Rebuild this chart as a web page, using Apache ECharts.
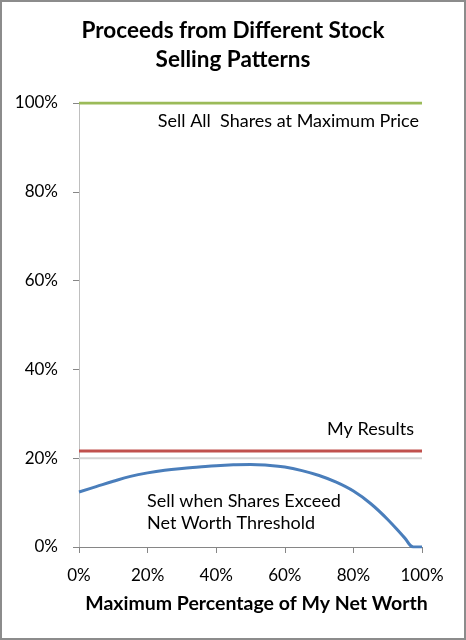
<!DOCTYPE html>
<html><head><meta charset="utf-8">
<script src="https://cdn.jsdelivr.net/npm/echarts@6/dist/echarts.min.js"></script>
<style>html,body{margin:0;padding:0;background:#fff}#c{width:466px;height:640px}</style>
</head><body><div id="c"></div>
<script>
const xPct = [0,5,10,15,20,25,30,35,40,45,50,55,60,65,70,75,80,85,90,95,97.5,100];
const thresholdSell = [12.4,13.6,14.8,15.9,16.7,17.3,17.7,18.0,18.3,18.5,18.6,18.4,18.0,17.2,16.1,14.6,12.6,9.8,6.2,2.0,0,0];
const lineX = [0,100];
const sellAllMax = [100,100];
const myResults = [21.6,21.6];
const refLine = [20,20];
const xTicks = ['0%','20%','40%','60%','80%','100%'];
const yTicks = ['0%','20%','40%','60%','80%','100%'];

const F = 'Lato, "Open Sans", sans-serif';
const pair = (xs, ys) => xs.map((x,i)=>[x, ys[i]]);
const chart = echarts.init(document.getElementById('c'));
chart.setOption({
  animation:false,
  title:{text:'Proceeds from Different Stock\nSelling Patterns',left:'center',top:11,
    textStyle:{fontFamily:F,fontSize:22.5,fontWeight:'bold',color:'#000',lineHeight:29}},
  grid:{left:79,right:44,top:103,bottom:93},
  xAxis:{type:'value',min:0,max:100,interval:20,
    name:'Maximum Percentage of My Net Worth',nameLocation:'middle',nameGap:47,
    nameTextStyle:{fontFamily:F,fontSize:19.5,fontWeight:'bold',color:'#000',padding:[0,0,0,12]},
    axisLine:{lineStyle:{color:'#868686',width:1}},
    axisTick:{show:true,length:6,lineStyle:{color:'#868686'}},
    axisLabel:{fontFamily:F,fontSize:17,color:'#000',margin:20,formatter:(v)=>xTicks[v/20]},
    splitLine:{show:false}},
  yAxis:{type:'value',min:0,max:100,interval:20,
    axisLine:{show:true,lineStyle:{color:'#bfbfbf',width:1}},
    axisTick:{show:true,length:6,lineStyle:{color:'#868686'}},
    axisLabel:{fontFamily:F,fontSize:17,color:'#000',margin:21,formatter:(v)=>yTicks[v/20]},
    splitLine:{show:false}},
  series:[
    {type:'line',data:pair(lineX,refLine),symbol:'none',lineStyle:{color:'#d4d4d4',width:2},silent:true},
    {type:'line',data:pair(lineX,sellAllMax),symbol:'none',lineStyle:{color:'#9bbb59',width:3}},
    {type:'line',data:pair(lineX,myResults),symbol:'none',lineStyle:{color:'#c0504d',width:3}},
    {type:'line',data:pair(xPct,thresholdSell),symbol:'none',smooth:0.4,lineStyle:{color:'#4a7ebb',width:3}}
  ],
  graphic:[
    {type:'rect',shape:{x:1,y:1,width:464,height:638},style:{fill:'none',stroke:'#8c8c8c',lineWidth:2}},
    {type:'text',right:47,top:112,style:{text:'Sell All  Shares at Maximum Price',font:'18px '+F,fill:'#000'}},
    {type:'text',right:52,top:420,style:{text:'My Results',font:'18px '+F,fill:'#000'}},
    {type:'text',left:147,top:490,style:{text:'Sell when Shares Exceed\nNet Worth Threshold',font:'18px '+F,fill:'#000',lineHeight:22}}
  ]
});
</script></body></html>
